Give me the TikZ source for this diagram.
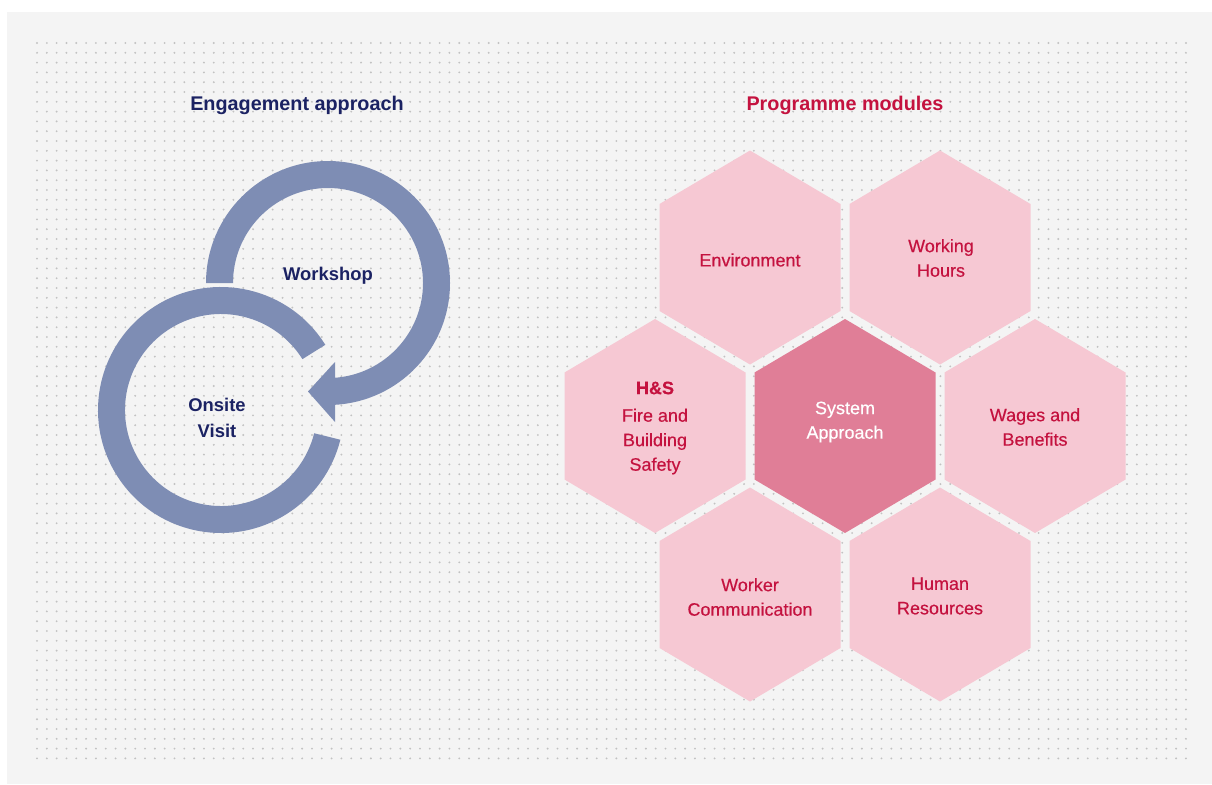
\documentclass[tikz,border=0pt]{standalone}
\usepackage{fontspec}
\setmainfont{Liberation Sans}
\newfontfamily\hexfont[FakeBold=0.4]{Liberation Sans}
\usepackage{tikz}

\definecolor{panelgray}{HTML}{F4F4F4}
\definecolor{dotgray}{HTML}{C2C2C2}
\definecolor{loopblue}{HTML}{7E8DB4}
\definecolor{navytext}{HTML}{1B2263}
\definecolor{crimson}{HTML}{C4123F}
\definecolor{hexpink}{HTML}{F6C8D3}
\definecolor{hexrose}{HTML}{E07E97}

\tikzset{
  dotrow/.style={dotgray, line width=2.1pt, line cap=round, dash pattern=on 0pt off 9.82pt},
  heading/.style={font=\bfseries\fontsize{19.8}{24}\selectfont},
  looptext/.style={text=navytext, align=center, font=\bfseries\fontsize{18.4}{26}\selectfont},
  hextext/.style={text=crimson, align=center, font=\hexfont\fontsize{18}{24.5}\selectfont}
}

% one honeycomb cell, centre (#1,#2), fill #3
\newcommand{\hexcell}[3]{\fill[#3] (#1,#2) +(0,107) -- +(90.5,53.5) -- +(90.5,-53.5) -- +(0,-107) -- +(-90.5,-53.5) -- +(-90.5,53.5) -- cycle;}

\begin{document}
\begin{tikzpicture}[x=1pt,y=1pt]
    \useasboundingbox (0,0) rectangle (1212,-784);
    \fill[white] (0,0) rectangle (1212,-784);
    \fill[panelgray] (7,-12) rectangle (1212,-784);
    % dot grid
    \foreach \j in {0,...,73}
    \draw[dotrow] (37,-43-9.8*\j) -- (1190,-43-9.8*\j);

    \draw (297,-105) node[heading, text=navytext] (engage) {Engagement approach};
    \draw (845,-105) node[heading, text=crimson] (modules) {Programme modules};

    % the two loops
    \coordinate (wc) at (328,-283);
    \coordinate (oc) at (221,-410);
    \fill[loopblue] ([shift={(180:122)}]wc) arc[start angle=180, end angle=-87, radius=122]
        -- ([shift={(-87:95)}]wc) arc[start angle=-87, end angle=180, radius=95] -- cycle;
    \fill[loopblue] (335,-362) -- (308,-391.5) -- (335,-422) -- cycle;
    \fill[loopblue] ([shift={(32:123)}]oc) arc[start angle=32, end angle=346, radius=123]
        -- ([shift={(346:96)}]oc) arc[start angle=346, end angle=32, radius=96] -- cycle;
    \node[looptext] (workshop) at (328,-276) {Workshop};
    \node[looptext] (onsite) at (217,-418) {Onsite\\Visit};

    % honeycomb
    \foreach \x/\y in {750/-257.5, 940/-257.5, 655/-426, 1035/-426, 750/-594.5, 940/-594.5}
    {\hexcell{\x}{\y}{hexpink}}
    \hexcell{845}{-426}{hexrose}

    \node[hextext] (environment) at (750,-260) {Environment};
    \node[hextext] (hours) at (941,-258) {Working\\Hours};
    \node[hextext] (safety) at (655,-428) {\textbf{H\&S}\\[3pt]Fire and\\Building\\Safety};
    \node[hextext, text=white] (system) at (845,-422) {System\\Approach};
    \node[hextext] (wages) at (1035,-427) {Wages and\\Benefits};
    \node[hextext] (worker) at (750,-597) {Worker\\Communication};
    \node[hextext] (human) at (940,-596) {Human\\Resources};
\end{tikzpicture}
\end{document}
